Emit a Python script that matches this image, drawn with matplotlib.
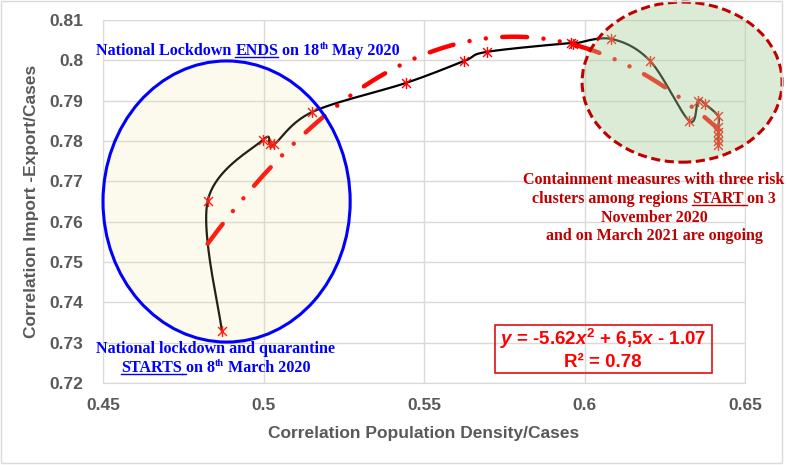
import numpy as np
import matplotlib
matplotlib.use("Agg")
import matplotlib.pyplot as plt
from matplotlib.patches import Ellipse, Rectangle
from matplotlib.path import Path
from matplotlib.transforms import IdentityTransform
from matplotlib.lines import Line2D

# --------- data ---------
pop_density = [0.4870, 0.4826, 0.4997, 0.5019, 0.5034, 0.5152, 0.5444, 0.5624,
               0.5696, 0.5957, 0.5965, 0.6084, 0.6205, 0.6326, 0.6354, 0.6376,
               0.6416, 0.6416, 0.6416, 0.6416, 0.6416, 0.6416]
import_export = [0.7330, 0.7651, 0.7802, 0.7792, 0.7792, 0.7872, 0.7944, 0.7998,
                 0.8021, 0.8043, 0.8041, 0.8053, 0.7998, 0.7850, 0.7900, 0.7891,
                 0.7862, 0.7834, 0.7823, 0.7812, 0.7801, 0.7790]
x_ticks = [0.45, 0.5, 0.55, 0.6, 0.65]
x_tick_labels = ["0.45", "0.5", "0.55", "0.6", "0.65"]
y_ticks = [0.72, 0.73, 0.74, 0.75, 0.76, 0.77, 0.78, 0.79, 0.80, 0.81]
y_tick_labels = ["0.72", "0.73", "0.74", "0.75", "0.76", "0.77", "0.78", "0.79", "0.8", "0.81"]

plt.rcParams["mathtext.fontset"] = "custom"
plt.rcParams["mathtext.rm"] = "Liberation Sans:bold"
plt.rcParams["mathtext.it"] = "Liberation Sans:italic:bold"
plt.rcParams["mathtext.bf"] = "Liberation Sans:bold"

W, H = 787, 465
GREY = "#595959"
BLUE = "#0000FF"
DRED = "#C00000"
SERIF = "Liberation Serif"

fig = plt.figure(figsize=(W / 100, H / 100), dpi=100)
ax = fig.add_axes([103 / W, 1 - 383 / H, 642 / W, 363 / H])
ax.set_xlim(0.45, 0.65)
ax.set_ylim(0.72, 0.81)
ax.set_xticks(x_ticks, x_tick_labels)
ax.set_yticks(y_ticks, y_tick_labels)
ax.tick_params(length=0, labelsize=12.5, labelcolor=GREY)
ax.tick_params(axis="x", pad=11)
ax.tick_params(axis="y", pad=14)
for lab in ax.get_xticklabels() + ax.get_yticklabels():
    lab.set_fontweight("bold")
    lab.set_family("Liberation Sans")
ax.grid(True, color="#D9D9D9", lw=1)
ax.set_axisbelow(True)
for s in ax.spines.values():
    s.set_color("#D9D9D9")
ax.set_xlabel("Correlation Population Density/Cases", fontsize=12.5, fontweight="bold",
              color=GREY, family="Liberation Sans", labelpad=9)
ax.set_ylabel("Correlation Import -Export/Cases", fontsize=12.5, fontweight="bold",
              color=GREY, family="Liberation Sans", labelpad=8)


# --------- smoothed line (Excel style bezier, done in screen space) ---------
def smooth(xs, ys, n=25):
    P = ax.transData.transform(np.column_stack([xs, ys]))
    Pe = np.vstack([P[0], P, P[-1]])
    t = np.linspace(0, 1, n)[:, None]
    segs = []
    for i in range(len(P) - 1):
        p0, p1, p2, p3 = Pe[i], Pe[i + 1], Pe[i + 2], Pe[i + 3]
        c1 = p1 + (p2 - p0) / 6
        c2 = p2 - (p3 - p1) / 6
        segs.append((1 - t) ** 3 * p1 + 3 * (1 - t) ** 2 * t * c1
                    + 3 * (1 - t) * t ** 2 * c2 + t ** 3 * p2)
    S = ax.transData.inverted().transform(np.vstack(segs))
    return S[:, 0], S[:, 1]


sx, sy = smooth(pop_density, import_export)
ax.plot(sx, sy, color="black", lw=1.6, zorder=3)

star = Path([(-1, -1), (1, 1), (-1, 1), (1, -1), (0, -1.25), (0, 1.25)],
            [Path.MOVETO, Path.LINETO] * 3)
ax.plot(pop_density, import_export, ls="none", marker=star, ms=8,
        mec="red", mew=1, mfc="none", zorder=4)

# polynomial trendline (order 2)
coef = np.polyfit(pop_density, import_export, 2)
tx = np.linspace(min(pop_density), max(pop_density), 200)
ax.plot(tx, np.polyval(coef, tx), color="red", lw=3.2,
        dashes=(5.6, 3.7, 0.01, 3.7, 0.01, 3.7), dash_capstyle="round", zorder=3)

# --------- ellipses ---------
e1 = Ellipse((0.4885, 0.765), 0.0770, 0.0697, facecolor=(0.94, 0.85, 0.54, 0.15),
             edgecolor=BLUE, lw=2.2, zorder=5)
e2 = Ellipse((0.6304, 0.7946), 0.0623, 0.0397, facecolor=(0.66, 0.81, 0.59, 0.40),
             edgecolor=DRED, lw=2.2, ls=(0, (3, 1.5)), zorder=5)
for e in (e1, e2):
    ax.add_patch(e)
    e.set_clip_on(False)

# --------- rich text helper (underline + superscript) ---------
fig.canvas.draw()
R = fig.canvas.get_renderer()
IT = IdentityTransform()


def width_of(s, size):
    t = fig.text(0, 0, s, fontsize=size, fontweight="bold", family=SERIF, transform=IT)
    w = t.get_window_extent(R).width
    t.remove()
    return w


def rich_line(x, y, runs, size, color, ha="center"):
    # runs: (text, flag) flag '' / 'u' underline / 's' superscript
    sp = width_of("n n", size) - width_of("nn", size)
    ws = []
    for s, f in runs:
        fs = size * 0.62 if f == "s" else size
        ws.append(sp * len(s) if s.strip() == "" else width_of(s, fs))
    x0 = x - sum(ws) / 2 if ha == "center" else x
    yb = H - y
    for (s, f), w in zip(runs, ws):
        fs = size * 0.62 if f == "s" else size
        dy = size * 1.39 * 0.38 if f == "s" else 0
        if s.strip():
            fig.text(x0, yb + dy, s, fontsize=fs, fontweight="bold", family=SERIF,
                     color=color, transform=IT, va="baseline", ha="left")
        if f == "u":
            fig.add_artist(Line2D([x0, x0 + w], [yb - 2, yb - 2], color=color,
                                  lw=1, transform=IT))
        x0 += w


rich_line(96, 55, [("National Lockdown", ""), (" ", ""), ("ENDS", "u"), (" ", ""),
                   ("on 18", ""), ("th", "s"), (" ", ""), ("May 2020", "")],
          11.6, BLUE, ha="left")
rich_line(216, 353, [("National lockdown and quarantine", "")], 11.6, BLUE)
rich_line(216, 372, [("STARTS", "u"), (" ", "u"), ("on 8", ""), ("th", "s"),
                     (" ", ""), ("March 2020", "")], 11.6, BLUE)

rich_line(654, 184, [("Containment measures with three risk", "")], 11.5, DRED)
rich_line(654, 203, [("clusters among regions", ""), (" ", ""), ("START", "u"),
                     (" ", "u"), ("on 3", "")], 11.5, DRED)
rich_line(654, 222, [("November 2020", "")], 11.5, DRED)
rich_line(654, 240, [("and on March 2021 are ongoing", "")], 11.5, DRED)

# --------- trendline equation box ---------
fig.add_artist(Rectangle((495, H - 373), 217, 48, transform=IT, fill=False,
                         edgecolor="#E01010", lw=1.2))
fig.text(603, H - 345, "$y$ = -5.62$x^2$ + 6,5$x$ - 1.07", transform=IT, ha="center",
         va="baseline", fontsize=13.5, fontweight="bold", color="red", family="Liberation Sans")
fig.text(603, H - 367, "R² = 0.78", transform=IT, ha="center", va="baseline",
         fontsize=13.5, fontweight="bold", color="red", family="Liberation Sans")

# outer chart border
fig.add_artist(Rectangle((1, H - 463), 781, 462, transform=IT, fill=False,
                         edgecolor="#D9D9D9", lw=1))

fig.savefig("out.png", dpi=100)
